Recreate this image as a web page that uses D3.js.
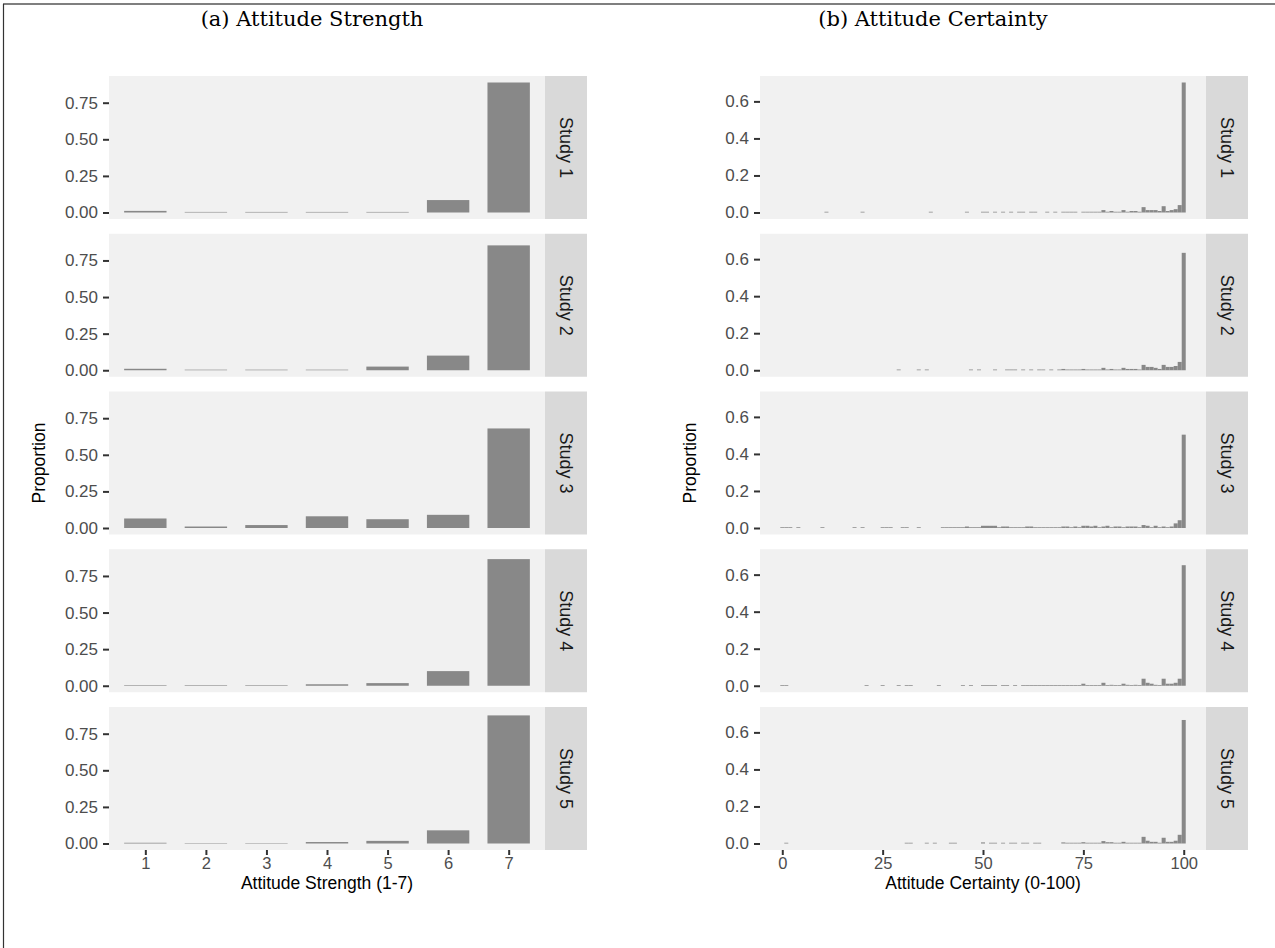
<!DOCTYPE html>
<html>
<head>
<meta charset="utf-8">
<script src="https://cdn.jsdelivr.net/npm/d3@7/dist/d3.min.js"></script>
<style>
  html, body { margin: 0; padding: 0; background: #ffffff; }
  svg { display: block; }
</style>
</head>
<body>
<svg id="chart" width="1275" height="948"></svg>
<script>
// Facet labels
const studies = ["Study 1", "Study 2", "Study 3", "Study 4", "Study 5"];

// (a) Attitude strength: proportion of respondents at each scale point (1-7)
const strengthLevels = [1, 2, 3, 4, 5, 6, 7];
const strengthStudy1 = [0.011, 0.004, 0.004, 0.004, 0.004, 0.085, 0.888];
const strengthStudy2 = [0.010, 0.004, 0.004, 0.004, 0.025, 0.100, 0.853];
const strengthStudy3 = [0.065, 0.010, 0.020, 0.080, 0.060, 0.090, 0.680];
const strengthStudy4 = [0.004, 0.004, 0.004, 0.010, 0.018, 0.100, 0.865];
const strengthStudy5 = [0.005, 0.003, 0.003, 0.010, 0.018, 0.090, 0.875];
const strengthTicks = [0, 0.25, 0.5, 0.75];
const strengthAxisTicks = [1, 2, 3, 4, 5, 6, 7];

// (b) Attitude certainty: [score, proportion] for each non-empty 1-point bin
const certaintyStudy1 = [
  [11, 0.004], [20, 0.004], [37, 0.004], [46, 0.004], [50, 0.004], [51, 0.004],
  [53, 0.004], [55, 0.004], [57, 0.004], [59, 0.004], [60, 0.004], [62, 0.004],
  [63, 0.004], [66, 0.004], [68, 0.004], [70, 0.004], [71, 0.004], [72, 0.004],
  [73, 0.004], [75, 0.004], [76, 0.004], [77, 0.004], [78, 0.004], [79, 0.004],
  [80, 0.013], [81, 0.004], [82, 0.008], [83, 0.004], [84, 0.004], [85, 0.013],
  [86, 0.004], [87, 0.008], [88, 0.008], [89, 0.004], [90, 0.029], [91, 0.013],
  [92, 0.013], [93, 0.013], [94, 0.008], [95, 0.034], [96, 0.008], [97, 0.013],
  [98, 0.018], [99, 0.040], [100, 0.702]
];
const certaintyStudy2 = [
  [29, 0.004], [34, 0.004], [36, 0.004], [47, 0.004], [49, 0.004], [53, 0.004],
  [56, 0.004], [57, 0.004], [58, 0.004], [60, 0.004], [62, 0.004], [64, 0.004],
  [65, 0.004], [67, 0.004], [69, 0.004], [70, 0.007], [71, 0.004], [72, 0.004],
  [73, 0.004], [74, 0.004], [75, 0.007], [76, 0.004], [77, 0.004], [78, 0.004],
  [79, 0.004], [80, 0.013], [81, 0.004], [82, 0.007], [83, 0.004], [84, 0.004],
  [85, 0.013], [86, 0.007], [87, 0.007], [88, 0.007], [89, 0.004], [90, 0.029],
  [91, 0.018], [92, 0.018], [93, 0.013], [94, 0.007], [95, 0.029], [96, 0.018],
  [97, 0.018], [98, 0.023], [99, 0.045], [100, 0.634]
];
const certaintyStudy3 = [
  [0, 0.004], [1, 0.004], [2, 0.004], [4, 0.004], [10, 0.004], [18, 0.004],
  [20, 0.004], [25, 0.004], [26, 0.004], [27, 0.004], [30, 0.004], [31, 0.004],
  [34, 0.004], [40, 0.004], [41, 0.004], [42, 0.004], [43, 0.004], [44, 0.004],
  [45, 0.004], [46, 0.008], [47, 0.004], [48, 0.004], [49, 0.004], [50, 0.012],
  [51, 0.012], [52, 0.012], [53, 0.012], [54, 0.004], [55, 0.008], [56, 0.008],
  [57, 0.004], [58, 0.004], [59, 0.004], [60, 0.004], [61, 0.008], [62, 0.008],
  [63, 0.004], [64, 0.004], [65, 0.004], [66, 0.004], [67, 0.004], [68, 0.004],
  [69, 0.004], [70, 0.008], [71, 0.008], [72, 0.004], [73, 0.008], [74, 0.004],
  [75, 0.012], [76, 0.012], [77, 0.008], [78, 0.012], [79, 0.004], [80, 0.008],
  [81, 0.012], [82, 0.004], [83, 0.008], [84, 0.008], [85, 0.004], [86, 0.008],
  [87, 0.008], [88, 0.008], [89, 0.004], [90, 0.016], [91, 0.012], [92, 0.004],
  [93, 0.012], [94, 0.004], [95, 0.008], [96, 0.004], [97, 0.008], [98, 0.025],
  [99, 0.042], [100, 0.504]
];
const certaintyStudy4 = [
  [0, 0.004], [1, 0.004], [21, 0.004], [25, 0.004], [29, 0.004], [31, 0.004],
  [32, 0.004], [39, 0.004], [45, 0.004], [47, 0.004], [50, 0.004], [51, 0.004],
  [52, 0.004], [53, 0.004], [55, 0.004], [56, 0.004], [58, 0.004], [60, 0.004],
  [61, 0.004], [62, 0.004], [63, 0.004], [64, 0.004], [65, 0.004], [66, 0.004],
  [67, 0.004], [68, 0.004], [69, 0.004], [70, 0.004], [71, 0.004], [72, 0.004],
  [73, 0.004], [74, 0.004], [75, 0.011], [76, 0.004], [77, 0.004], [78, 0.004],
  [79, 0.004], [80, 0.016], [81, 0.004], [82, 0.005], [83, 0.004], [84, 0.004],
  [85, 0.011], [86, 0.005], [87, 0.004], [88, 0.005], [89, 0.004], [90, 0.038],
  [91, 0.016], [92, 0.011], [93, 0.005], [94, 0.004], [95, 0.038], [96, 0.011],
  [97, 0.011], [98, 0.016], [99, 0.038], [100, 0.651]
];
const certaintyStudy5 = [
  [1, 0.004], [31, 0.004], [32, 0.004], [36, 0.004], [38, 0.004], [42, 0.004],
  [43, 0.004], [50, 0.006], [52, 0.004], [53, 0.004], [55, 0.004], [57, 0.004],
  [58, 0.004], [60, 0.004], [61, 0.004], [63, 0.004], [64, 0.004], [70, 0.006],
  [71, 0.004], [72, 0.004], [73, 0.004], [74, 0.004], [75, 0.007], [76, 0.004],
  [77, 0.004], [78, 0.004], [79, 0.004], [80, 0.013], [81, 0.007], [82, 0.007],
  [83, 0.004], [84, 0.004], [85, 0.009], [86, 0.004], [87, 0.004], [88, 0.004],
  [89, 0.004], [90, 0.036], [91, 0.015], [92, 0.009], [93, 0.009], [94, 0.004],
  [95, 0.031], [96, 0.009], [97, 0.009], [98, 0.015], [99, 0.047], [100, 0.667]
];
const certaintyTicks = [0, 0.2, 0.4, 0.6];
const certaintyAxisTicks = [0, 25, 50, 75, 100];

const strengthData = [strengthStudy1, strengthStudy2, strengthStudy3, strengthStudy4, strengthStudy5];
const certaintyData = [certaintyStudy1, certaintyStudy2, certaintyStudy3, certaintyStudy4, certaintyStudy5];

// ---- layout ----
const svg = d3.select("#chart");
const panelTop = 76, panelBottom = 850, nPanels = 5, panelGap = 14.75;
const panelH = (panelBottom - panelTop - panelGap * (nPanels - 1)) / nPanels;
const stripW = 42;
const sansFont = "'Liberation Sans', Arial, Helvetica, sans-serif";
const serifFont = "'DejaVu Serif', 'Liberation Serif', serif";
const panelFill = "#f1f1f1", stripFill = "#d9d9d9", barFill = "#888888";
const tickFont = 17, xTickFont = 16.5, titleFont = 17.5, stripFont = 18;

// frame lines
svg.append("line").attr("x1", 3).attr("x2", 1275).attr("y1", 4).attr("y2", 4)
  .attr("stroke", "#555").attr("stroke-width", 1.5);
svg.append("line").attr("x1", 3.5).attr("x2", 3.5).attr("y1", 4).attr("y2", 948)
  .attr("stroke", "#333").attr("stroke-width", 1.2);

// ggplot-like facet column
function drawColumn(opts) {
  const g = svg.append("g");
  const { left, right, x, y, yTicks, yFormat, xTicks, title, titleX, xLabel, drawBars, data } = opts;

  studies.forEach((name, i) => {
    const top = panelTop + i * (panelH + panelGap);
    const pg = g.append("g").attr("transform", `translate(0,${top})`);
    y.range([panelH, 0]);

    pg.append("rect").attr("x", left).attr("y", 0)
      .attr("width", right - left).attr("height", panelH).attr("fill", panelFill);

    drawBars(pg, data[i]);

    // strip
    pg.append("rect").attr("x", right).attr("y", 0)
      .attr("width", stripW).attr("height", panelH).attr("fill", stripFill);
    pg.append("text")
      .attr("transform", `translate(${right + stripW / 2},${panelH / 2}) rotate(90)`)
      .attr("text-anchor", "middle").attr("dominant-baseline", "central")
      .attr("font-family", sansFont).attr("font-size", stripFont).attr("fill", "#1a1a1a")
      .text(name);

    // y axis
    const ya = pg.append("g").attr("transform", `translate(${left},0)`)
      .call(d3.axisLeft(y).tickValues(yTicks).tickFormat(d3.format(yFormat)).tickSize(6).tickPadding(5));
    ya.select(".domain").remove();
    ya.selectAll(".tick line").attr("stroke", "#333").attr("stroke-width", 2);
    ya.selectAll(".tick text").attr("font-family", sansFont).attr("font-size", tickFont).attr("fill", "#4d4d4d");

    if (i === nPanels - 1) {
      const xa = pg.append("g").attr("transform", `translate(0,${panelH})`)
        .call(d3.axisBottom(x).tickValues(xTicks).tickSize(5).tickPadding(2));
      xa.select(".domain").remove();
      xa.selectAll(".tick line").attr("stroke", "#333").attr("stroke-width", 2);
      xa.selectAll(".tick text").attr("font-family", sansFont).attr("font-size", xTickFont).attr("fill", "#4d4d4d");
    }
  });

  // axis titles
  g.append("text").attr("x", (left + right) / 2).attr("y", 889)
    .attr("text-anchor", "middle").attr("font-family", sansFont).attr("font-size", titleFont)
    .attr("fill", "#000").text(xLabel);
  g.append("text")
    .attr("transform", `translate(${left - 64},${(panelTop + panelBottom) / 2}) rotate(-90)`)
    .attr("text-anchor", "middle").attr("font-family", sansFont).attr("font-size", titleFont)
    .attr("fill", "#000").text("Proportion");
  // subfigure caption
  g.append("text").attr("x", titleX).attr("y", 26)
    .attr("text-anchor", "middle").attr("font-family", serifFont).attr("font-size", 21)
    .attr("fill", "#000").text(title);
}

// (a) bar chart over discrete scale points (ggplot discrete expansion: 0.6 units each side)
const strengthMax = d3.max(strengthData.flat());
const xSPoint = d3.scalePoint().domain(strengthLevels).range([109, 545]).padding(0.6);
const yS = d3.scaleLinear().domain([-0.05 * strengthMax, 1.05 * strengthMax]);
const stepS = xSPoint.step();

drawColumn({
  left: 109, right: 545, x: xSPoint, y: yS, yTicks: strengthTicks, yFormat: ".2f",
  xTicks: strengthAxisTicks, title: "(a) Attitude Strength", titleX: 312,
  xLabel: "Attitude Strength (1-7)", data: strengthData,
  drawBars(pg, values) {
    pg.selectAll("rect.bar").data(strengthLevels.map((lv, k) => ({ lv, p: values[k] })))
      .join("rect").attr("class", "bar")
      .attr("x", d => xSPoint(d.lv) - 0.35 * stepS)
      .attr("width", 0.7 * stepS)
      .attr("y", d => yS(d.p))
      .attr("height", d => yS(0) - yS(d.p))
      .attr("fill", barFill);
  }
});

// (b) histogram with 1-point bins
const certaintyMax = d3.max(certaintyData.flat(), d => d[1]);
const xC = d3.scaleLinear().domain([-0.5 - 0.05 * 101, 100.5 + 0.05 * 101]).range([760, 1206]);
const yC = d3.scaleLinear().domain([-0.05 * certaintyMax, 1.05 * certaintyMax]);

drawColumn({
  left: 760, right: 1206, x: xC, y: yC, yTicks: certaintyTicks, yFormat: ".1f",
  xTicks: certaintyAxisTicks, title: "(b) Attitude Certainty", titleX: 933,
  xLabel: "Attitude Certainty (0-100)", data: certaintyData,
  drawBars(pg, values) {
    pg.selectAll("rect.bar").data(values)
      .join("rect").attr("class", "bar")
      .attr("x", d => xC(d[0] - 0.5))
      .attr("width", d => xC(d[0] + 0.5) - xC(d[0] - 0.5))
      .attr("y", d => yC(d[1]))
      .attr("height", d => yC(0) - yC(d[1]))
      .attr("fill", barFill);
  }
});
</script>
</body>
</html>
